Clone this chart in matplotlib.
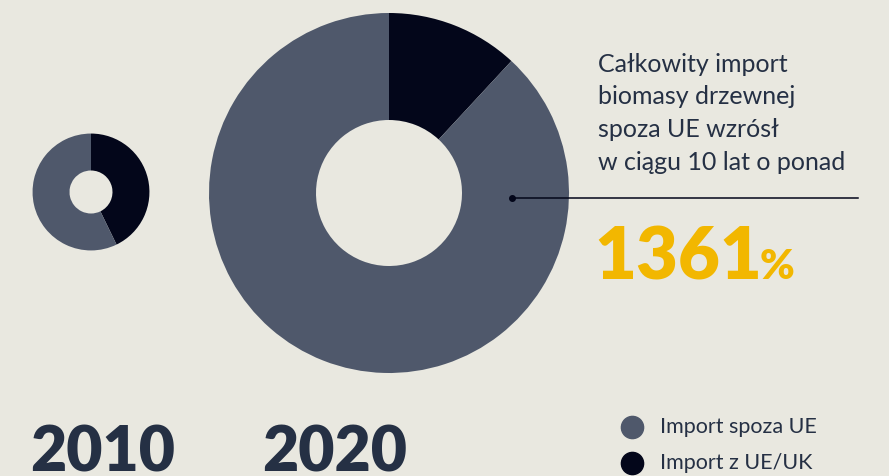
import matplotlib.pyplot as plt
import numpy as np

# shares of wood biomass imports (non-EU, EU/UK)
years = ["2010", "2020"]
share_non_eu = [0.572, 0.881]
share_eu = [0.428, 0.119]
growth_pct = 1361
legend_labels = ["Import spoza UE", "Import z UE/UK"]

BG = "#e9e8e0"
SLATE = "#4f586b"
DARK = "#03061a"
TEXT = "#253044"
YELLOW = "#f2b700"

W, H = 889, 476
fig = plt.figure(figsize=(W / 100, H / 100), dpi=100, facecolor=BG)
ax = fig.add_axes([0, 0, 1, 1])

# donut area follows total imports: non-EU part grew by growth_pct
r_big = 180
tot_ratio = (1 + growth_pct / 100) * share_non_eu[0] / share_non_eu[1]
r_small = r_big / np.sqrt(tot_ratio)

centers = [(91, H - 192), (389, H - 193)]
radii = [r_small, r_big]
holes = [21.5, 73]

for i in range(2):
    ax.pie([share_eu[i], share_non_eu[i]], colors=[DARK, SLATE],
           startangle=90, counterclock=False, center=centers[i],
           radius=radii[i], frame=True,
           wedgeprops=dict(width=radii[i] - holes[i], linewidth=0))
ax.set_xlim(0, W)
ax.set_ylim(0, H)
ax.set_aspect("equal")
ax.axis("off")

font = "Lato"
ax.text(30, H - 471, years[0], fontsize=45, fontweight="heavy", color=TEXT,
        family=font, va="baseline", ha="left")
ax.text(262, H - 471, years[1], fontsize=45, fontweight="heavy", color=TEXT,
        family=font, va="baseline", ha="left")

lines = ["Całkowity import", "biomasy drzewnej", "spoza UE wzrósł",
         "w ciągu 10 lat o ponad"]
for k, s in enumerate(lines):
    ax.text(598, H - (72 + 32.5 * k), s, fontsize=18, color=TEXT,
            family=font, va="baseline", ha="left")

# pointer line from the big donut
ax.plot([512, 858], [H - 198, H - 198], color=DARK, lw=1.1)
ax.plot([512], [H - 198], "o", color=DARK, ms=4)

ax.text(594, H - 279, str(growth_pct), fontsize=52, fontweight="heavy",
        color=YELLOW, family=font, va="baseline", ha="left")
ax.text(760, H - 279, "%", fontsize=30, fontweight="heavy",
        color=YELLOW, family=font, va="baseline", ha="left")

for k, (lab, col) in enumerate(zip(legend_labels, [SLATE, DARK])):
    y = H - (427 + 36 * k)
    ax.plot([632], [y], "o", color=col, ms=16)
    ax.text(660, y, lab, fontsize=15.5, color=TEXT, family=font,
            va="center", ha="left")

fig.savefig("out.png", dpi=100, facecolor=BG)
